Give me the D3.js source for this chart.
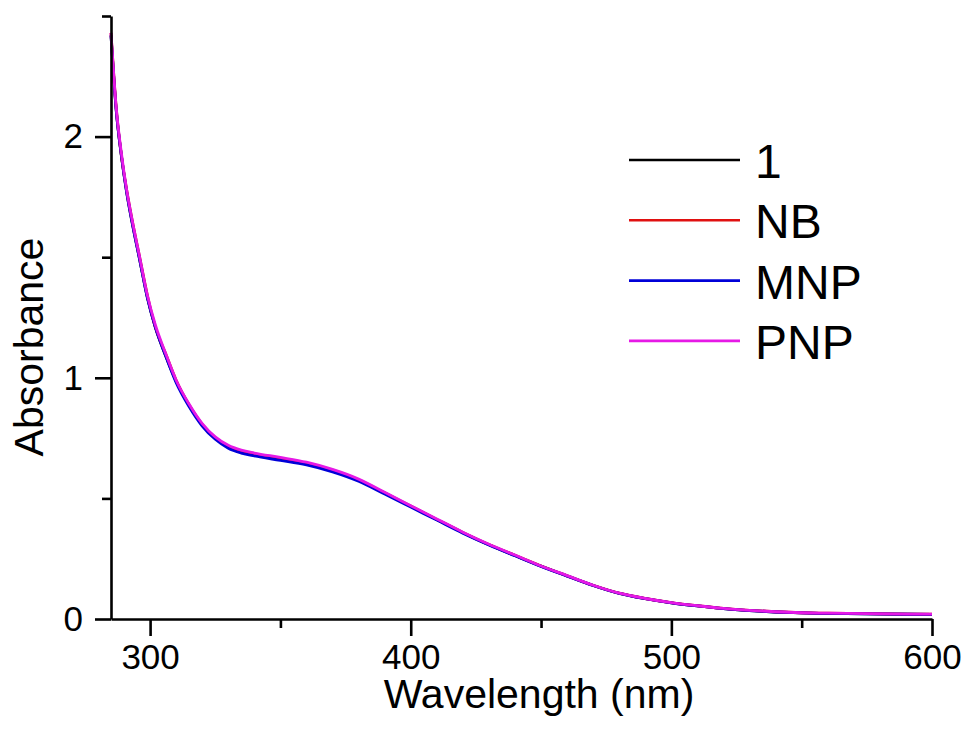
<!DOCTYPE html>
<html>
<head>
<meta charset="utf-8">
<script src="https://cdn.jsdelivr.net/npm/d3@7"></script>
<style>
  body { margin: 0; background: #fff; }
  #chart { width: 964px; height: 733px; }
  text { font-family: "Liberation Sans", Arial, sans-serif; fill: #000; }
</style>
</head>
<body>
<div id="chart"></div>
<script>
// wavelengths (nm) and absorbance
var wavelengths = [285,287,289,291,293,296,299,302,306,310,315,320,325,330,335,340,350,360,370,380,390,400,410,420,430,440,450,460,470,480,490,500,510,520,530,540,550,560,575,600];
var absOne = [2.42,2.11,1.92,1.77,1.65,1.49,1.33,1.21,1.09,0.985,0.885,0.805,0.75,0.714,0.694,0.682,0.664,0.644,0.615,0.575,0.521,0.467,0.412,0.358,0.308,0.263,0.219,0.179,0.139,0.106,0.084,0.067,0.054,0.043,0.035,0.029,0.025,0.023,0.021,0.019];
var absNB = [2.43,2.12,1.92,1.78,1.66,1.50,1.34,1.21,1.10,0.99,0.887,0.807,0.752,0.716,0.696,0.684,0.666,0.646,0.617,0.577,0.523,0.468,0.413,0.359,0.309,0.264,0.22,0.179,0.14,0.107,0.085,0.068,0.055,0.044,0.036,0.03,0.026,0.024,0.022,0.02];
var absMNP = [2.42,2.11,1.92,1.77,1.65,1.49,1.33,1.21,1.09,0.98,0.88,0.80,0.745,0.708,0.688,0.676,0.658,0.639,0.61,0.571,0.518,0.464,0.41,0.356,0.307,0.262,0.218,0.178,0.139,0.106,0.084,0.067,0.054,0.043,0.035,0.029,0.025,0.023,0.021,0.019];
var absPNP = [2.43,2.12,1.93,1.78,1.66,1.50,1.34,1.22,1.10,0.99,0.89,0.81,0.755,0.72,0.70,0.688,0.67,0.65,0.62,0.58,0.525,0.47,0.415,0.36,0.31,0.265,0.22,0.18,0.14,0.107,0.085,0.068,0.055,0.044,0.036,0.030,0.026,0.024,0.022,0.020];

var seriesNames = ["1", "NB", "MNP", "PNP"];
var seriesColors = ["#000000", "#e01010", "#0000d8", "#e619e6"];
var xMajorTicks = [300, 400, 500, 600];
var xMinorTicks = [350, 450, 550];
var yMajorTicks = [0, 1, 2];
var yMinorTicks = [0.5, 1.5, 2.5];

var W = 964, H = 733;
var svg = d3.select("#chart").append("svg")
    .attr("width", W)
    .attr("height", H);

var x = d3.scaleLinear().domain([285, 600]).range([111, 932]);
var y = d3.scaleLinear().domain([0, 2.5]).range([619, 16]);

var series = [absOne, absNB, absMNP, absPNP].map(function(vals, i){
    return {
        name: seriesNames[i],
        color: seriesColors[i],
        points: wavelengths.map(function(w, j){ return [w, vals[j]]; })
    };
});

// curves first, axes drawn over them
var line = d3.line()
    .x(function(d){ return x(d[0]); })
    .y(function(d){ return y(d[1]); })
    .curve(d3.curveMonotoneX);

svg.append("g").selectAll("path")
    .data(series)
  .enter().append("path")
    .attr("d", function(d){ return line(d.points); })
    .attr("fill", "none")
    .attr("stroke", function(d){ return d.color; })
    .attr("stroke-width", 2.8);

function styleAxis(g){
    g.selectAll("path, line").attr("stroke", "#000").attr("stroke-width", 2.6);
    g.selectAll("text").attr("font-size", 35).attr("fill", "#000")
        .attr("font-family", '"Liberation Sans", Arial, sans-serif');
}

svg.append("g")
    .attr("transform", "translate(0," + y(0) + ")")
    .call(d3.axisBottom(x).tickValues(xMajorTicks).tickSize(17).tickPadding(8).tickSizeOuter(0))
    .call(styleAxis);
svg.append("g")
    .attr("transform", "translate(0," + y(0) + ")")
    .call(d3.axisBottom(x).tickValues(xMinorTicks).tickSize(9).tickFormat("").tickSizeOuter(0))
    .call(styleAxis)
    .select(".domain").remove();

svg.append("g")
    .attr("transform", "translate(" + x(285) + ",0)")
    .call(d3.axisLeft(y).tickValues(yMajorTicks).tickSize(16).tickPadding(12).tickSizeOuter(0).tickFormat(d3.format("d")))
    .call(styleAxis);
svg.append("g")
    .attr("transform", "translate(" + x(285) + ",0)")
    .call(d3.axisLeft(y).tickValues(yMinorTicks).tickSize(9).tickFormat("").tickSizeOuter(0))
    .call(styleAxis)
    .select(".domain").remove();

// axis titles
svg.append("text")
    .attr("x", 539)
    .attr("y", 708)
    .attr("text-anchor", "middle")
    .attr("font-size", 41)
    .text("Wavelength (nm)");

svg.append("text")
    .attr("transform", "translate(43,347) rotate(-90)")
    .attr("text-anchor", "middle")
    .attr("font-size", 41)
    .text("Absorbance");

// legend
var legend = svg.append("g").attr("transform", "translate(629,160)");
var item = legend.selectAll("g")
    .data(series)
  .enter().append("g")
    .attr("transform", function(d, i){ return "translate(0," + (i * 60.3) + ")"; });
item.append("line")
    .attr("x1", 0).attr("x2", 111)
    .attr("stroke", function(d){ return d.color; })
    .attr("stroke-width", 2.6);
item.append("text")
    .attr("x", 126)
    .attr("y", 18)
    .attr("font-size", 48)
    .text(function(d){ return d.name; });
</script>
</body>
</html>
